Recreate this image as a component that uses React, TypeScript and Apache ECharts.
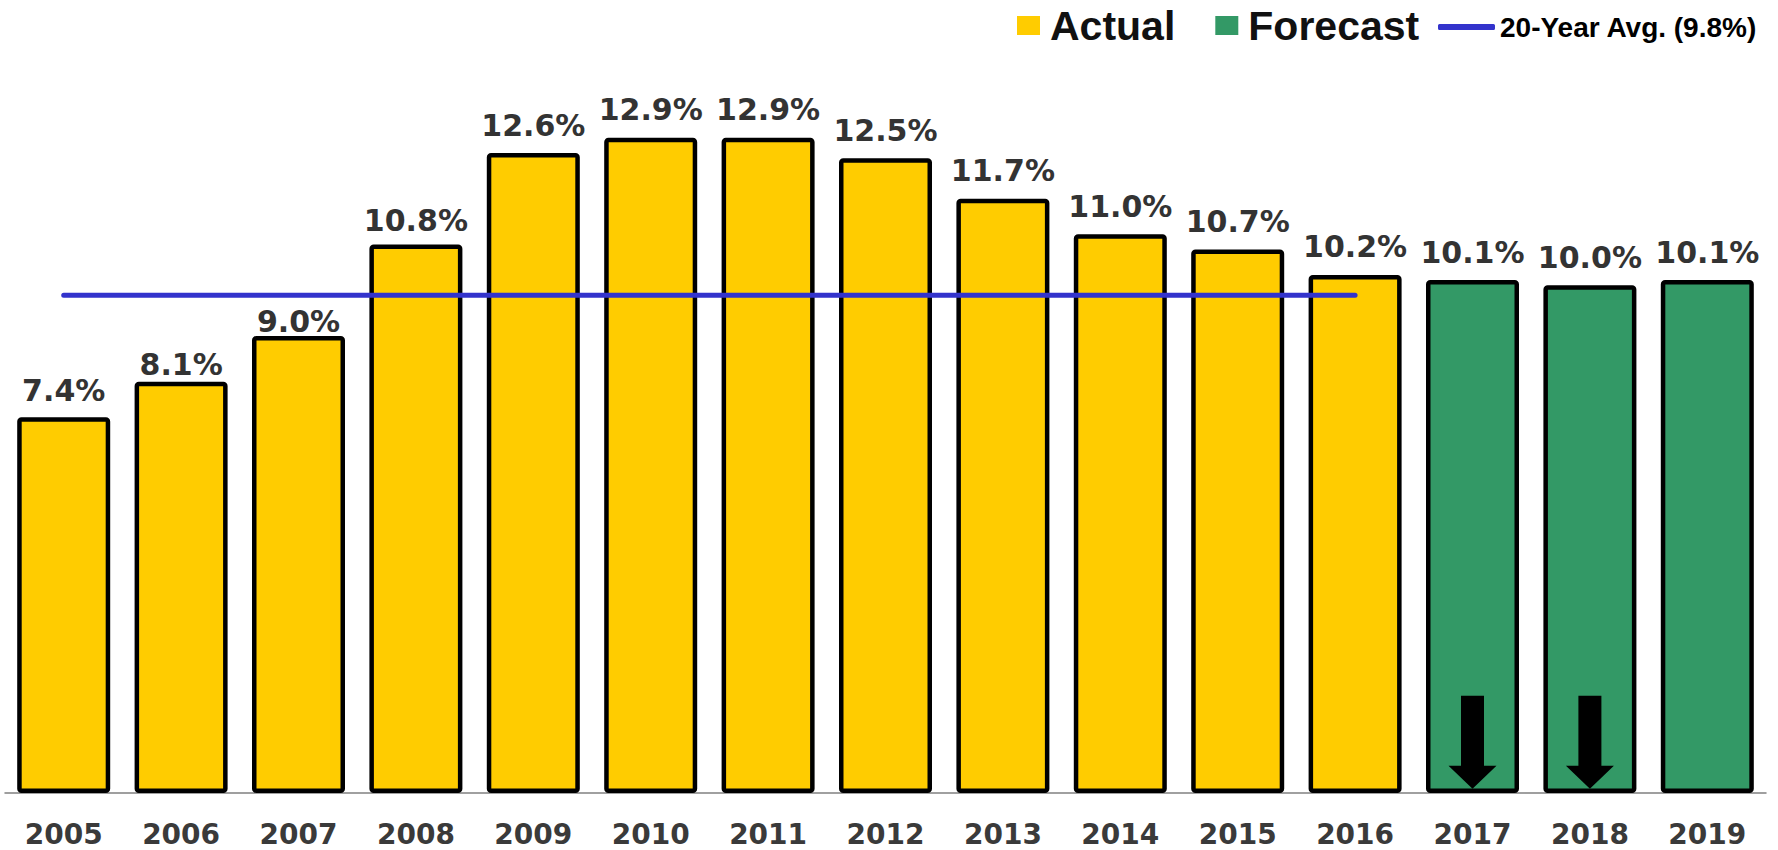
import React, { useEffect, useRef } from "react";
import * as echarts from "echarts";

const years = ["2005","2006","2007","2008","2009","2010","2011","2012","2013","2014","2015","2016","2017","2018","2019"];
const actual = [7.4, 8.1, 9.0, 10.8, 12.6, 12.9, 12.9, 12.5, 11.7, 11.0, 10.7, 10.2, null, null, null];
const forecast = [null, null, null, null, null, null, null, null, null, null, null, null, 10.1, 10.0, 10.1];
const avgLine = [9.8, 9.8, 9.8, 9.8, 9.8, 9.8, 9.8, 9.8, 9.8, 9.8, 9.8, 9.8, null, null, null];
const arrowYears = ["2017", "2018"];

const labelDist = [12, 2, -1, 9, 13, 13, 13, 13, 13, 13, 13, 13, 13, 13, 13];

const YELLOW = "#FFCC00";
const GREEN = "#339966";
const BLUE = "#3333CC";
const LABEL = "#333333";
const BAR_W = 93;

export default function App() {
  const ref = useRef<HTMLDivElement>(null);
  useEffect(() => {
    document.body.style.margin = "0";
    const chart = echarts.init(ref.current!, null, { renderer: "svg" });
    const labelBase = {
      show: true,
      position: "top",
      fontFamily: "DejaVu Sans",
      fontWeight: "bold",
      fontSize: 30,
      color: LABEL,
      formatter: (p: any) => Number(p.value).toFixed(1) + "%",
    };
    const toItems = (arr: (number | null)[]) =>
      arr.map((v, i) => (v == null ? "-" : { value: v, label: { distance: labelDist[i] } }));
    chart.setOption({
      animation: false,
      grid: { left: 5, right: 12, top: 82, bottom: 57 },
      legend: [
        {
          left: 1017,
          top: 5,
          padding: 0,
          itemWidth: 23,
          itemHeight: 19,
          itemGap: 40,
          icon: "rect",
          itemStyle: { borderWidth: 0 },
          data: ["Actual", "Forecast"],
          textStyle: {
            fontFamily: "'Liberation Sans', Arial, sans-serif",
            fontWeight: "bold",
            fontSize: 41,
            color: "#111",
            padding: [0, 0, 0, 5],
          },
        },
        {
          left: 1438,
          top: 13,
          padding: 0,
          itemWidth: 57,
          itemHeight: 6,
          icon: "roundRect",
          data: ["20-Year Avg. (9.8%)"],
          textStyle: {
            fontFamily: "'Liberation Sans', Arial, sans-serif",
            fontWeight: "bold",
            fontSize: 28,
            color: "#000",
          },
        },
      ],
      xAxis: {
        type: "category",
        data: years,
        axisTick: { show: false },
        axisLine: { lineStyle: { color: "#808080", width: 1.5 } },
        axisLabel: {
          margin: 27,
          fontFamily: "DejaVu Sans",
          fontWeight: "bold",
          fontSize: 28,
          color: "#3a3a3a",
        },
      },
      yAxis: {
        type: "value",
        min: 0,
        max: 14,
        show: false,
        splitLine: { show: false },
      },
      series: [
        {
          name: "Actual",
          type: "bar",
          barWidth: BAR_W,
          barGap: "-100%",
          data: toItems(actual),
          itemStyle: { color: YELLOW, borderColor: "#000", borderWidth: 4.5, borderRadius: 2 },
          label: labelBase,
        },
        {
          name: "Forecast",
          type: "bar",
          barWidth: BAR_W,
          barGap: "-100%",
          data: toItems(forecast),
          itemStyle: { color: GREEN, borderColor: "#000", borderWidth: 4.5, borderRadius: 2 },
          label: labelBase,
        },
        {
          name: "20-Year Avg. (9.8%)",
          type: "line",
          data: avgLine.map((v) => (v == null ? "-" : v)),
          symbol: "none",
          itemStyle: { color: BLUE },
          lineStyle: { color: BLUE, width: 5, cap: "round" },
          z: 5,
        },
        {
          name: "arrows",
          type: "scatter",
          data: arrowYears.map((y) => [y, 1.0]),
          symbol: "path://M12.5,0 H35.5 V70 H48 L24,93 L0,70 H12.5 Z",
          symbolSize: [48, 93],
          itemStyle: { color: "#000", opacity: 1 },
          silent: true,
          z: 6,
        },
      ],
    });
    return () => chart.dispose();
  }, []);
  return <div ref={ref} style={{ width: 1778, height: 850 }} />;
}
